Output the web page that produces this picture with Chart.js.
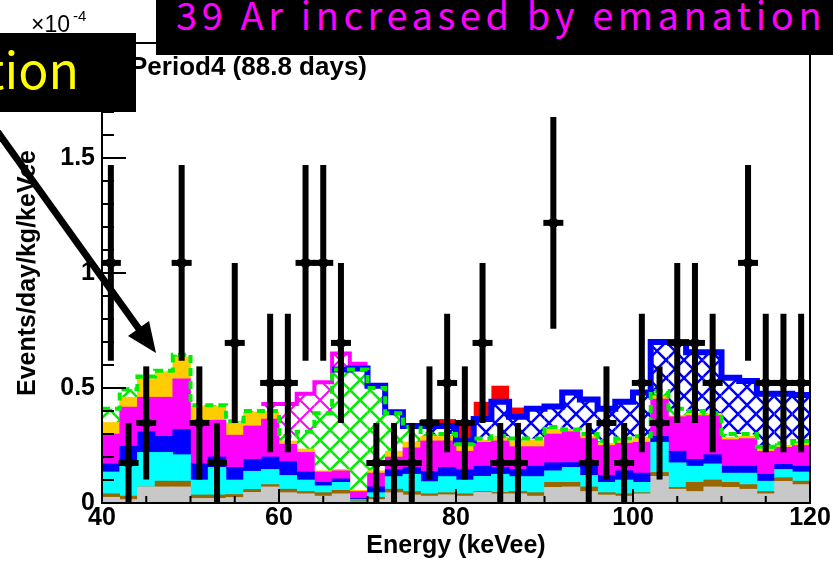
<!DOCTYPE html>
<html>
<head>
<meta charset="utf-8">
<script src="https://cdn.jsdelivr.net/npm/chart.js@4.4.0/dist/chart.umd.min.js"></script>
<style>
  html, body { margin: 0; padding: 0; background: #fff; }
  #wrap { position: relative; width: 833px; height: 563px; overflow: hidden; }
  #c { display: block; }
  .box { position: absolute; background: #000; overflow: hidden; white-space: nowrap;
         font-family: "Noto Sans CJK JP", sans-serif; line-height: 1; }
  #box1 { left: 0; top: 33px; width: 136px; height: 79px; }
  #box1 span { position: absolute; right: 57px; top: 9px; color: #ffff00; font-size: 50px; }
  #box2 { left: 156px; top: 0; width: 677px; height: 55px; }
  #box2 span { position: absolute; left: 20px; top: -5px; color: #ff00ff; font-size: 38px; letter-spacing: 4.6px; }
  #arrow { position: absolute; left: 0; top: 0; pointer-events: none; }
</style>
</head>
<body>
<div id="wrap">
  <canvas id="c" width="833" height="563"></canvas>
  <svg id="arrow" width="833" height="563">
    <line x1="-6" y1="127" x2="139" y2="329" stroke="#000" stroke-width="7"/>
    <polygon points="156,353 149,321 128,336" fill="#000"/>
  </svg>
  <div class="box" id="box1"><span>tion</span></div>
  <div class="box" id="box2"><span>39 Ar increased by emanation</span></div>
</div>
<script>
// bin centres (keV), 2 keV bins
const binCenters = [41, 43, 45, 47, 49, 51, 53, 55, 57, 59,
                    61, 63, 65, 67, 69, 71, 73, 75, 77, 79,
                    81, 83, 85, 87, 89, 91, 93, 95, 97, 99,
                    101, 103, 105, 107, 109, 111, 113, 115, 117, 119];

// background components, x1e-4 events/day/kg/keVee (stacked, bottom first)
const gray = [.025, .015, .07, .07, .07, .02, .02, .024, .046, .07,
              .045, .04, .03, .04, .005, .015, .045, .035, .03, .036,
              .03, .046, .04, .04, .03, .068, .07, .05, .035, .03,
              .04, .116, .06, .05, .07, .068, .06, .04, .094, .08];
const brown = [.015, .015, 0, .025, .025, .015, .015, .013, .013, .01,
               .015, .01, .015, .015, .005, .01, .015, .015, .01, .009,
               .01, .004, .006, .01, .015, .022, .02, .02, .01, .01,
               .005, .017, .008, .04, .03, .022, .02, .01, .016, .015];
const cyan = [.095, .13, .15, .125, .115, .065, .12, .063, .079, .066,
              .06, .05, .03, .035, .005, .02, .055, .075, .053, .07,
              .06, .066, .079, .065, .07, .05, .065, .05, .045, .06,
              .045, .131, .107, .07, .07, .04, .05, .045, .036, .04];
const blue = [.035, .087, .09, .07, .11, .07, .045, .055, .052, .054,
              .06, .035, .015, .015, .005, .025, .03, .03, .044, .04,
              .046, .044, .03, .031, .045, .035, .021, .04, .03, .04,
              .04, .026, .05, .03, .04, .03, .03, .03, .022, .025];
const magenta = [.13, .17, .15, .17, .22, .19, .16, .14, .145, .165,
                 .075, .085, .045, .035, .03, .06, .055, .085, .133, .115,
                 .079, .104, .115, .099, .085, .125, .134, .12, .13, .12,
                 .134, .162, .15, .19, .17, .115, .12, .10, .074, .09];
const orange = [.05, .043, .08, .11, .095, .06, .06, .052, .06, .03,
                .015, .015, .005, .006, .005, .01, .025, .025, .02, .025,
                .025, .009, .016, .025, .03, .02, .005, .01, .01, .01,
                .021, .013, .005, .01, .005, .01, .01, .01, .008, .01];
const greenHatch = [.06, .035, .01, .005, .01, .005, .005, .008, .005, .005,
                    .02, .075, .25, .434, .525, .36, .165, .065, .01, .005,
                    .005, .007, .004, .01, .005, .01, .005, .01, .01, .01,
                    .005, .022, .03, .01, .005, .015, .01, .01, .01, .01];
const blueHatch = [0, 0, 0, 0, 0, 0, 0, 0, 0, 0,
                   0, 0, 0, 0, .005, .01, .005, .005, .035, .035,
                   .015, .085, .15, .095, .13, .09, .16, .15, .14, .16,
                   .19, .213, .29, .255, .265, .245, .23, .23, .215, .20];
const magentaHatch = [0, 0, 0, 0, 0, 0, 0, 0, 0, .03,
                      .14, .165, .135, .07, .02, 0, 0, 0, 0, 0,
                      0, 0, 0, 0, 0, 0, 0, 0, 0, 0,
                      0, 0, 0, 0, 0, 0, 0, 0, 0, 0];
const red = [0, 0, 0, 0, 0, 0, 0, 0, 0, 0,
             0, 0, 0, 0, 0, 0, 0, 0, .03, .03,
             .07, .075, .07, .04, .01, .01, 0, 0, 0, 0,
             0, 0, 0, 0, 0, 0, 0, 0, 0, 0];

// measured data and errors
const dataVals = [1.044, .174, .348, null, 1.044, .348, .174, .696, null, .522,
                  .522, 1.044, 1.044, .696, null, .174, .174, .174, .348, .522,
                  .348, .696, .174, .174, null, 1.218, null, .174, .348, .174,
                  .522, .348, .696, .696, .522, null, 1.044, .522, .522, .522];
const dataErr = [.426, .174, .246, null, .426, .246, .174, .348, null, .301,
                 .301, .426, .426, .348, null, .174, .174, .174, .246, .301,
                 .246, .348, .174, .174, null, .460, null, .174, .246, .174,
                 .301, .246, .348, .348, .301, null, .426, .301, .301, .301];

const xTicks = [40, 60, 80, 100, 120];
const yTicks = [0, 0.5, 1, 1.5];

function hatch(color, size, lw) {
  const c = document.createElement('canvas');
  c.width = size; c.height = size;
  const g = c.getContext('2d');
  g.strokeStyle = color;
  g.lineWidth = lw;
  g.beginPath();
  for (const k of [-size, 0, size]) {
    g.moveTo(k, 0); g.lineTo(k + size, size);
    g.moveTo(k, size); g.lineTo(k + size, 0);
  }
  g.stroke();
  return g.createPattern(c, 'repeat');
}

const stackOrder = [gray, brown, cyan, blue, magenta, orange, greenHatch, blueHatch, magentaHatch, red];
function topOf(layer) {
  const n = stackOrder.indexOf(layer);
  return binCenters.map((c, i) => {
    let s = 0;
    for (let k = 0; k <= n; k++) s += stackOrder[k][i];
    return s;
  });
}
// histogram outline as step line over bin edges
function outline(layer, from, to) {
  const tops = topOf(layer);
  const pts = [];
  for (let i = from; i <= to; i++) pts.push({x: binCenters[i] - 1, y: tops[i]});
  pts.push({x: binCenters[to] + 1, y: tops[to]});
  return pts;
}

function layerSet(data, color, extra) {
  return Object.assign({
    type: 'bar',
    data: binCenters.map((c, i) => ({x: c, y: data[i]})),
    backgroundColor: color,
    borderWidth: 0,
    barPercentage: 1,
    categoryPercentage: 1
  }, extra || {});
}
function lineSet(data, color, width, stack, order, dash) {
  return {
    type: 'line', data, stack, order,
    borderColor: color, borderWidth: width, borderDash: dash || [],
    stepped: true, fill: false, pointRadius: 0, tension: 0
  };
}

const pts = [], errs = [];
binCenters.forEach((c, i) => {
  if (dataVals[i] == null) return;
  pts.push({x: c, y: dataVals[i]});
  errs.push({x: c, y: [Math.max(0, dataVals[i] - dataErr[i]), dataVals[i] + dataErr[i]]});
});

const rootFrame = {
  id: 'rootFrame',
  afterDatasetsDraw(chart) {
    const {ctx, chartArea: a, scales: {x, y}} = chart;
    ctx.save();
    ctx.strokeStyle = '#000';
    ctx.lineWidth = 2;
    ctx.strokeRect(a.left, a.top, a.right - a.left, a.bottom - a.top);
    ctx.beginPath();
    for (let v = 45; v < 120; v += 5) {
      const px = x.getPixelForValue(v);
      const len = v % 20 === 0 ? 14 : 7;
      ctx.moveTo(px, a.bottom); ctx.lineTo(px, a.bottom - len);
    }
    for (let i = 1; i < 20; i++) {
      const py = y.getPixelForValue(i / 10);
      const len = i % 5 === 0 ? 24 : 12;
      ctx.moveTo(a.left, py); ctx.lineTo(a.left + len, py);
    }
    ctx.stroke();
    ctx.fillStyle = '#000';
    ctx.textBaseline = 'alphabetic';
    ctx.font = 'bold 26px "Liberation Sans"';
    ctx.fillText('Period4 (88.8 days)', 130, 75);
    ctx.font = '23px "Liberation Sans"';
    ctx.fillText('\u00d710', 31, 32);
    ctx.font = '15px "Liberation Sans"';
    ctx.fillText('-4', 73, 21);
    ctx.restore();
  }
};

const axisFont = {family: 'Liberation Sans', weight: 'bold', size: 25};

new Chart(document.getElementById('c'), {
  type: 'bar',
  data: {
    datasets: [
      layerSet(gray, '#c8c8c8'),
      layerSet(brown, '#996600'),
      layerSet(cyan, '#00ffff'),
      layerSet(blue, '#0000ff'),
      layerSet(magenta, '#ff00ff'),
      layerSet(orange, '#ffcc00'),
      layerSet(greenHatch, hatch('#00ee00', 20, 2.5), {inflateAmount: 0}),
      layerSet(blueHatch, hatch('#0000ff', 18, 2.5), {inflateAmount: 0}),
      layerSet(magentaHatch, hatch('#ff00ff', 20, 2), {inflateAmount: 0}),
      layerSet(red, '#ff0000', {inflateAmount: 0}),
      lineSet(outline(magentaHatch, 9, 14), '#ff00ff', 4, 'o1', -1),
      lineSet(outline(blueHatch, 13, 39), '#0000ff', 6, 'o2', -2),
      lineSet(outline(greenHatch, 0, 39), '#00ee00', 4, 'o3', -3, [8, 5]),
      {type: 'bar', data: errs, backgroundColor: '#000', barThickness: 6,
       grouped: false, stack: 'err', order: -4, inflateAmount: 0},
      {type: 'line', data: pts, showLine: false, stack: 'pts', order: -5,
       pointStyle: 'line', pointRadius: 10, borderColor: '#000', borderWidth: 6},
      {type: 'line', data: pts, showLine: false, stack: 'pts2', order: -6,
       pointStyle: 'circle', pointRadius: 5, pointBackgroundColor: '#000',
       pointBorderColor: '#000', pointBorderWidth: 0}
    ]
  },
  options: {
    responsive: false,
    animation: false,
    events: [],
    layout: {padding: {top: 43, right: 23, left: 0, bottom: 0}},
    plugins: {legend: {display: false}, tooltip: {enabled: false}},
    scales: {
      x: {
        type: 'linear', min: 40, max: 120, offset: false, stacked: true,
        grid: {display: false, drawTicks: false}, border: {display: false},
        afterBuildTicks: s => { s.ticks = xTicks.map(v => ({value: v})); },
        ticks: {font: axisFont, color: '#000', padding: 0, maxRotation: 0, autoSkip: false,
                callback: v => String(v)},
        title: {display: true, text: 'Energy (keVee)', font: axisFont, color: '#000',
                padding: {top: 0, bottom: 2}},
        afterFit: s => { s.height = 60; }
      },
      y: {
        min: 0, max: 2, stacked: true,
        grid: {display: false, drawTicks: false}, border: {display: false},
        afterBuildTicks: s => { s.ticks = yTicks.map(v => ({value: v})); },
        ticks: {font: axisFont, color: '#000', padding: 7, callback: v => String(v)},
        title: {display: true, text: 'Events/day/kg/keVee', font: axisFont, color: '#000',
                padding: {top: 13, bottom: 0}},
        afterFit: s => { s.width = 102; }
      }
    }
  },
  plugins: [rootFrame]
});
</script>
</body>
</html>
